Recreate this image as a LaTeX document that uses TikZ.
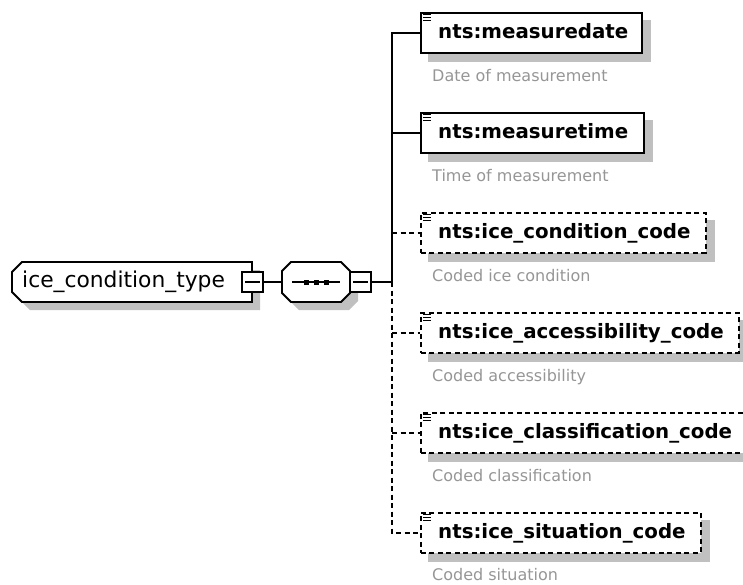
\documentclass[tikz,border=0pt]{standalone}
\usepackage{fontspec}
\setmainfont{DejaVu Sans}
\usetikzlibrary{backgrounds}
\definecolor{shadowc}{RGB}{192,192,192}
\definecolor{descc}{RGB}{150,150,150}
\begin{document}
\begin{tikzpicture}[x=1pt,y=-1pt,
  ebox/.style={draw, line width=1.8pt, fill=white, rectangle, minimum height=40pt, inner sep=0pt, anchor=north west},
  optbox/.style={ebox, dash pattern=on 5pt off 3.5pt},
  etext/.style={anchor=base west, inner sep=0pt, font=\fontsize{19.8}{22}\selectfont\bfseries},
  desc/.style={anchor=base west, inner sep=0pt, text=descc, font=\fontsize{16}{18}\selectfont},
  conn/.style={line width=1.8pt},
  optconn/.style={conn, dash pattern=on 5pt off 3.5pt},
  minusbox/.style={draw, line width=1.5pt, fill=white, minimum width=21pt, minimum height=20pt, inner sep=0pt},
  shapeline/.style={draw, line width=1.8pt, fill=white},
  icon/.style={line width=1.1pt}
]
\useasboundingbox (0,0) rectangle (743,584);

% ---------- root element ----------
\begin{scope}[shift={(8,8)}]
  \fill[shadowc] (22,262) -- (252,262) -- (252,302) -- (22,302) -- (12,292) -- (12,272) -- cycle;
\end{scope}
\path[shapeline] (22,262) -- (252,262) -- (252,302) -- (22,302) -- (12,292) -- (12,272) -- cycle;
\node[anchor=base west, inner sep=0pt, font=\fontsize{21.8}{24}\selectfont] (root) at (22,287) {ice\_condition\_type};
\node[minusbox] (m1) at (252.5,282) {};
\draw[line width=1.5pt] ([xshift=4pt]m1.west) -- ([xshift=-4pt]m1.east);

% ---------- sequence compositor ----------
\begin{scope}[shift={(8,8)}]
  \fill[shadowc] (291,262) -- (341,262) -- (350,271) -- (350,293) -- (341,302) -- (291,302) -- (282,293) -- (282,271) -- cycle;
\end{scope}
\path[shapeline] (291,262) -- (341,262) -- (350,271) -- (350,293) -- (341,302) -- (291,302) -- (282,293) -- (282,271) -- cycle;
\node[minimum width=68pt, minimum height=40pt, inner sep=0pt] (seq) at (316,282) {};
\draw[line width=1.5pt] ([xshift=10pt]seq.west) -- ([xshift=-10pt]seq.east);
\fill ([shift={(-12.5,-2.5)}]seq.center) rectangle ++(5,5);
\fill ([shift={(-2.5,-2.5)}]seq.center) rectangle ++(5,5);
\fill ([shift={(7.5,-2.5)}]seq.center) rectangle ++(5,5);
\node[minusbox] (m2) at (360.5,282) {};
\draw[line width=1.5pt] ([xshift=4pt]m2.west) -- ([xshift=-4pt]m2.east);

% ---------- child elements ----------
\node[ebox, minimum width=221pt] (c1) at (420,12) {};
\node[ebox, minimum width=223pt] (c2) at (420,112) {};
\node[optbox, minimum width=285pt] (c3) at (420,212) {};
\node[optbox, minimum width=318pt] (c4) at (420,312) {};
\node[optbox, minimum width=328pt] (c5) at (420,412) {};
\node[optbox, minimum width=280pt] (c6) at (420,512) {};

\begin{scope}[on background layer]
  \foreach \n in {c1,c2,c3,c4,c5,c6}
    \fill[shadowc] ([shift={(8,8)}]\n.north west) rectangle ([shift={(8,8)}]\n.south east);
\end{scope}

\foreach \n in {c1,c2,c3,c4,c5,c6}{
  \foreach \d in {2.5,5.5,8.5}
    \draw[icon] ([shift={(3,\d)}]\n.north west) -- ++(8,0);
}

\node[etext] (t1) at ([shift={(18,26)}]c1.north west) {nts:measuredate};
\node[etext] (t2) at ([shift={(18,26)}]c2.north west) {nts:measuretime};
\node[etext] (t3) at ([shift={(18,26)}]c3.north west) {nts:ice\_condition\_code};
\node[etext] (t4) at ([shift={(18,26)}]c4.north west) {nts:ice\_accessibility\_code};
\node[etext] (t5) at ([shift={(18,26)}]c5.north west) {nts:ice\_classification\_code};
\node[etext] (t6) at ([shift={(18,26)}]c6.north west) {nts:ice\_situation\_code};

\node[desc] (d1) at ([shift={(12,69)}]c1.north west) {Date of measurement};
\node[desc] (d2) at ([shift={(12,69)}]c2.north west) {Time of measurement};
\node[desc] (d3) at ([shift={(12,69)}]c3.north west) {Coded ice condition};
\node[desc] (d4) at ([shift={(12,69)}]c4.north west) {Coded accessibility};
\node[desc] (d5) at ([shift={(12,69)}]c5.north west) {Coded classification};
\node[desc] (d6) at ([shift={(12,68)}]c6.north west) {Coded situation};

% ---------- connectors ----------
\coordinate (trunk) at (392,282);
\draw[conn] (m1.east) -- (seq.west);
\draw[conn] (m2.east) -- (trunk);
\draw[conn] (trunk) -- (trunk |- c1.west) -- (c1.west);
\draw[conn] (trunk |- c2.west) -- (c2.west);
\draw[optconn] (trunk) -- (trunk |- c6.west) -- (c6.west);
\draw[optconn] (trunk |- c3.west) -- (c3.west);
\draw[optconn] (trunk |- c4.west) -- (c4.west);
\draw[optconn] (trunk |- c5.west) -- (c5.west);
\end{tikzpicture}
\end{document}
